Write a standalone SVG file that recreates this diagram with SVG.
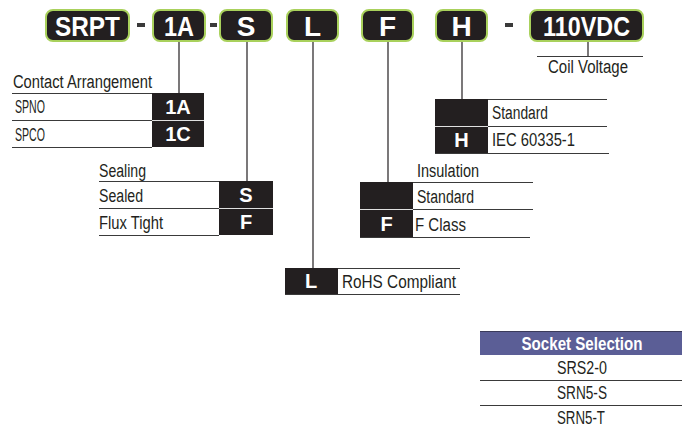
<svg xmlns="http://www.w3.org/2000/svg" width="682" height="427" viewBox="0 0 682 427">
<style>
.bg{fill:#ffffff}
.code rect{fill:#231f20;stroke:#a9d15c;stroke-width:2}
.code text{fill:#ffffff;font-family:"Liberation Sans Narrow","Liberation Sans",sans-serif;font-weight:bold;font-size:28px;text-anchor:middle}
.dash{fill:#3a3a3a}
.lbl{fill:#231f20;font-family:"Liberation Sans Narrow","Liberation Sans",sans-serif;font-size:18px}
.cell{fill:#231f20}
.cellt{fill:#ffffff;font-family:"Liberation Sans Narrow","Liberation Sans",sans-serif;font-weight:bold;font-size:20px;text-anchor:middle}
.rule{stroke:#3a3a3a;stroke-width:1.2;fill:none}
.wrule{stroke:#e0e0e0;stroke-width:1.2}
.conn line{stroke:#231f20;stroke-width:1.2}
.hdr{fill:#5b5e96}
.hdrt{fill:#ffffff;font-family:"Liberation Sans Narrow","Liberation Sans",sans-serif;font-weight:bold;font-size:19px;text-anchor:middle}
.sock{fill:#231f20;font-family:"Liberation Sans Narrow","Liberation Sans",sans-serif;font-size:18px;text-anchor:middle}
</style>
<rect class="bg" x="0" y="0" width="682" height="427"/>

<g id="code-boxes">
  <g id="box-srpt" class="code"><rect x="46" y="10" width="83" height="31" rx="7"/><text x="87.5" y="36" textLength="65" lengthAdjust="spacingAndGlyphs">SRPT</text></g>
  <rect class="dash" x="137" y="23" width="8" height="4"/>
  <g id="box-1a" class="code"><rect x="153" y="10" width="52" height="31" rx="7"/><text x="179" y="36" textLength="30" lengthAdjust="spacingAndGlyphs">1A</text></g>
  <rect class="dash" x="210" y="23" width="7" height="4"/>
  <g id="box-s" class="code"><rect x="220" y="10" width="52" height="31" rx="7"/><text x="246" y="36">S</text></g>
  <g id="box-l" class="code"><rect x="287" y="10" width="51" height="31" rx="7"/><text x="312.5" y="36">L</text></g>
  <g id="box-f" class="code"><rect x="362" y="10" width="51" height="31" rx="7"/><text x="387.5" y="36">F</text></g>
  <g id="box-h" class="code"><rect x="436" y="10" width="51" height="31" rx="7"/><text x="461.5" y="36">H</text></g>
  <rect class="dash" x="505" y="23" width="8" height="4"/>
  <g id="box-110vdc" class="code"><rect x="530" y="10" width="113" height="31" rx="7"/><text x="586.5" y="36" textLength="87" lengthAdjust="spacingAndGlyphs">110VDC</text></g>
</g>

<g id="connectors" class="conn">
  <line x1="179" y1="42" x2="179" y2="93"/>
  <line x1="247" y1="42" x2="247" y2="181"/>
  <line x1="313" y1="42" x2="313" y2="268"/>
  <line x1="388" y1="42" x2="388" y2="182"/>
  <line x1="462" y1="42" x2="462" y2="99"/>
  <line x1="588" y1="42" x2="588" y2="56"/>
</g>

<g id="contact-arrangement">
  <text class="lbl" x="13" y="88" textLength="139" lengthAdjust="spacingAndGlyphs">Contact Arrangement</text>
  <rect class="cell" x="152" y="93" width="52" height="54"/>
  <line class="rule" x1="12" y1="93.5" x2="152" y2="93.5"/>
  <line class="rule" x1="12" y1="120.5" x2="152" y2="120.5"/>
  <line class="wrule" x1="152" y1="120.5" x2="204" y2="120.5"/>
  <line class="rule" x1="12" y1="147.5" x2="152" y2="147.5"/>
  <text class="lbl" x="15" y="113" textLength="30" lengthAdjust="spacingAndGlyphs">SPNO</text>
  <text class="lbl" x="15" y="141" textLength="30" lengthAdjust="spacingAndGlyphs">SPCO</text>
  <text class="cellt" x="178" y="114">1A</text>
  <text class="cellt" x="178" y="141">1C</text>
</g>

<g id="sealing">
  <text class="lbl" x="99" y="177" textLength="47" lengthAdjust="spacingAndGlyphs">Sealing</text>
  <rect class="cell" x="219" y="181" width="54" height="54"/>
  <line class="rule" x1="99" y1="181.5" x2="219" y2="181.5"/>
  <line class="rule" x1="99" y1="208.5" x2="219" y2="208.5"/>
  <line class="wrule" x1="219" y1="208.5" x2="273" y2="208.5"/>
  <line class="rule" x1="99" y1="235.5" x2="219" y2="235.5"/>
  <text class="lbl" x="99" y="202" textLength="44" lengthAdjust="spacingAndGlyphs">Sealed</text>
  <text class="lbl" x="99" y="229" textLength="64" lengthAdjust="spacingAndGlyphs">Flux Tight</text>
  <text class="cellt" x="246" y="202">S</text>
  <text class="cellt" x="246" y="229">F</text>
</g>

<g id="insulation">
  <text class="lbl" x="417" y="177" textLength="62" lengthAdjust="spacingAndGlyphs">Insulation</text>
  <rect class="cell" x="360" y="182" width="53" height="55"/>
  <line class="rule" x1="413" y1="182.5" x2="533" y2="182.5"/>
  <line class="rule" x1="413" y1="209.5" x2="533" y2="209.5"/>
  <line class="wrule" x1="360" y1="209.5" x2="413" y2="209.5"/>
  <line class="rule" x1="360" y1="237.5" x2="530" y2="237.5"/>
  <text class="lbl" x="417" y="203" textLength="57" lengthAdjust="spacingAndGlyphs">Standard</text>
  <text class="lbl" x="415" y="231" textLength="51" lengthAdjust="spacingAndGlyphs">F Class</text>
  <text class="cellt" x="386.5" y="231">F</text>
</g>

<g id="heater">
  <rect class="cell" x="435" y="99" width="53" height="54"/>
  <line class="rule" x1="488" y1="99.5" x2="607" y2="99.5"/>
  <line class="rule" x1="488" y1="126.5" x2="607" y2="126.5"/>
  <line class="wrule" x1="435" y1="126.5" x2="488" y2="126.5"/>
  <line class="rule" x1="435" y1="153.5" x2="609" y2="153.5"/>
  <text class="lbl" x="492" y="119" textLength="56" lengthAdjust="spacingAndGlyphs">Standard</text>
  <text class="lbl" x="492" y="146" textLength="83" lengthAdjust="spacingAndGlyphs">IEC 60335-1</text>
  <text class="cellt" x="461.5" y="147">H</text>
</g>

<g id="coil-voltage">
  <line class="rule" x1="537" y1="56.5" x2="643" y2="56.5"/>
  <text class="lbl" x="548" y="73" textLength="80" lengthAdjust="spacingAndGlyphs">Coil Voltage</text>
</g>

<g id="rohs">
  <rect class="cell" x="285" y="268" width="53" height="26"/>
  <line class="rule" x1="338" y1="268.5" x2="460" y2="268.5"/>
  <line class="rule" x1="285" y1="294.5" x2="460" y2="294.5"/>
  <text class="lbl" x="342" y="288" textLength="114" lengthAdjust="spacingAndGlyphs">RoHS Compliant</text>
  <text class="cellt" x="311" y="288">L</text>
</g>

<g id="socket-selection">
  <rect class="hdr" x="480" y="331" width="202" height="24"/>
  <line x1="480" y1="331.5" x2="682" y2="331.5" stroke="#3a3a5a" stroke-width="1.2"/>
  <text class="hdrt" x="582" y="350" textLength="121" lengthAdjust="spacingAndGlyphs">Socket Selection</text>
  <text class="sock" x="582" y="374" textLength="50" lengthAdjust="spacingAndGlyphs">SRS2-0</text>
  <line class="rule" x1="480" y1="380.5" x2="682" y2="380.5"/>
  <text class="sock" x="582" y="399" textLength="50" lengthAdjust="spacingAndGlyphs">SRN5-S</text>
  <line class="rule" x1="480" y1="405.5" x2="682" y2="405.5"/>
  <text class="sock" x="581" y="424" textLength="48" lengthAdjust="spacingAndGlyphs">SRN5-T</text>
</g>
</svg>
